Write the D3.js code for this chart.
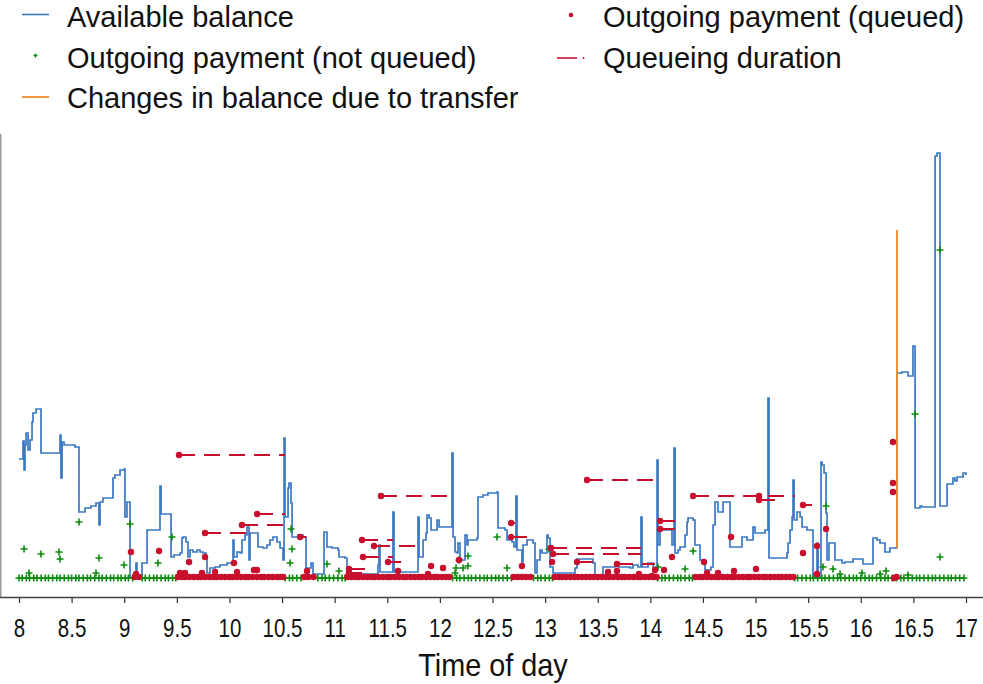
<!DOCTYPE html>
<html>
<head>
<meta charset="utf-8">
<script src="https://cdnjs.cloudflare.com/ajax/libs/d3/7.8.5/d3.min.js"></script>
<style>
    body { margin: 0; background: #fff; }
    svg { display: block; font-family: 'Liberation Sans', Arial, sans-serif; }
</style>
</head>
<body>
<svg id="chart" width="983" height="684"></svg>
<script>
'use strict';

// Available balance, [hour of day, balance], held until the next entry
var balance = [
    [8.000, 119], [8.038, 137], [8.048, 108], [8.057, 133], [8.067, 145], [8.086, 128], [8.105, 138],
    [8.124, 156], [8.133, 165], [8.162, 169], [8.209, 125], [8.390, 143], [8.399, 100], [8.409, 136],
    [8.428, 133], [8.532, 131], [8.570, 66], [8.627, 70], [8.684, 72], [8.732, 75], [8.760, 53],
    [8.770, 76], [8.798, 80], [8.893, 100], [8.912, 103], [8.960, 108], [8.998, 109], [9.007, 61],
    [9.026, 76], [9.055, 0], [9.112, 15], [9.121, 3], [9.169, 15], [9.217, 48], [9.340, 92],
    [9.350, 64], [9.445, 21], [9.473, 23], [9.530, 25], [9.549, 40], [9.559, 41], [9.587, 36],
    [9.606, 21], [9.625, 28], [9.654, 26], [9.692, 28], [9.720, 26], [9.749, 25], [9.777, 21],
    [9.787, 5], [9.815, 10], [9.863, 11], [9.910, 13], [9.977, 15], [10.024, 16], [10.034, 38],
    [10.043, 21], [10.072, 26], [10.100, 25], [10.119, 38], [10.148, 43], [10.167, 51], [10.186, 18],
    [10.195, 45], [10.271, 31], [10.319, 30], [10.357, 33], [10.385, 38], [10.414, 41], [10.452, 36],
    [10.481, 30], [10.509, 18], [10.519, 140], [10.528, 61], [10.557, 90], [10.566, 95], [10.585, 75],
    [10.595, 41], [10.652, 43], [10.699, 41], [10.728, 10], [10.775, 15], [10.794, 4], [10.899, 46],
    [10.927, 31], [10.975, 30], [11.032, 28], [11.041, 21], [11.098, 20], [11.117, 3], [11.241, 4],
    [11.412, 13], [11.421, 33], [11.431, 6], [11.554, 66], [11.564, 6], [11.792, 61], [11.802, 21],
    [11.840, 38], [11.868, 45], [11.878, 63], [11.897, 60], [11.916, 48], [11.973, 58], [11.992, 51],
    [12.115, 125], [12.125, 41], [12.144, 26], [12.163, 25], [12.172, 35], [12.191, 18], [12.239, 43],
    [12.258, 33], [12.267, 38], [12.353, 40], [12.362, 81], [12.410, 83], [12.457, 85], [12.543, 86],
    [12.552, 50], [12.619, 48], [12.638, 38], [12.686, 36], [12.704, 31], [12.723, 82], [12.733, 28],
    [12.780, 16], [12.790, 33], [12.828, 38], [12.885, 35], [12.904, 5], [12.923, 18], [12.952, 28],
    [12.971, 25], [13.018, 43], [13.028, 40], [13.047, 11], [13.075, 5], [13.284, 10], [13.303, 19],
    [13.455, 15], [13.474, 3], [13.550, 11], [13.664, 13], [13.683, 16], [13.693, 11], [13.807, 10],
    [13.835, 13], [13.883, 11], [13.911, 61], [13.921, 11], [13.978, 15], [14.026, 10], [14.064, 118],
    [14.073, 33], [14.092, 48], [14.187, 48], [14.206, 33], [14.225, 130], [14.235, 25], [14.263, 28],
    [14.282, 31], [14.330, 43], [14.349, 56], [14.358, 60], [14.406, 58], [14.424, 33], [14.472, 18],
    [14.501, 15], [14.520, 8], [14.576, 11], [14.596, 53], [14.615, 76], [14.643, 66], [14.691, 76],
    [14.757, 31], [14.871, 41], [14.919, 38], [14.976, 51], [14.995, 45], [15.090, 48], [15.118, 180],
    [15.128, 20], [15.299, 25], [15.309, 35], [15.328, 48], [15.347, 61], [15.356, 98], [15.366, 58],
    [15.394, 66], [15.423, 61], [15.442, 51], [15.489, 48], [15.546, 1], [15.584, 35], [15.594, 1],
    [15.622, 116], [15.632, 113], [15.651, 105], [15.670, 65], [15.679, 18], [15.698, 35], [15.755, 18],
    [15.822, 15], [15.850, 16], [15.926, 19], [16.021, 14], [16.116, 40], [16.154, 38], [16.183, 35],
    [16.230, 26], [16.277, 30], [16.344, 205], [16.391, 206], [16.449, 202], [16.496, 232], [16.516, 70],
    [16.563, 72], [16.582, 71], [16.706, 422], [16.725, 425], [16.753, 72], [16.820, 94], [16.876, 100],
    [16.895, 97], [16.915, 101], [16.972, 105], [17.000, 103]
];

// [hour, balance before, balance right after the transfer]
var transfers = [[16.344, 30, 348]];

// Outgoing payments settled at once, [hour, amount]
var notQueued = [
    [8.048, 29], [8.095, 5], [8.209, 24], [8.380, 26], [8.390, 19], [8.570, 56], [8.732, 5],
    [8.760, 20], [8.998, 13], [9.055, 54], [9.321, 15], [9.454, 41], [10.576, 15], [10.585, 49],
    [10.595, 29], [10.927, 14], [11.041, 7], [12.144, 5], [12.153, 10], [12.182, 18], [12.220, 10],
    [12.267, 22], [12.267, 12], [12.543, 41], [12.638, 10], [13.037, 29], [14.073, 11], [14.330, 9],
    [14.406, 27], [15.641, 11], [15.670, 72], [15.736, 9], [15.803, 4], [16.012, 5], [16.183, 4],
    [16.240, 7], [16.449, 3], [16.516, 164], [16.753, 328], [16.753, 21]
];
// the many very small ones that sit on the zero line
var notQueuedSmall = [
    8.00, 8.03, 8.07, 8.10, 8.14, 8.17, 8.21, 8.25, 8.28, 8.32, 8.36, 8.39, 8.43, 8.47, 8.50, 8.54,
    8.57, 8.61, 8.65, 8.68, 8.72, 8.76, 8.79, 8.83, 8.87, 8.90, 8.94, 8.97, 9.01, 9.04, 9.08,
    9.17, 9.20, 9.24, 9.28, 9.31, 9.35, 9.39, 9.42, 9.46, 9.49,
    10.53, 10.57, 10.60, 10.64, 10.68,
    10.84, 10.88, 10.91, 10.95, 10.99, 11.03, 11.07, 11.10,
    12.12, 12.16, 12.19, 12.23, 12.27, 12.30, 12.34, 12.38, 12.42, 12.45, 12.49, 12.53, 12.56, 12.60,
    12.64, 12.68,
    12.89, 12.93, 12.96, 13.00, 13.04, 13.07,
    14.07, 14.11, 14.14, 14.18, 14.22, 14.26, 14.29, 14.33, 14.37, 14.40,
    15.37, 15.40, 15.44, 15.48, 15.52, 15.55, 15.59, 15.63, 15.66, 15.70, 15.74, 15.78, 15.81, 15.85,
    15.89, 15.93, 15.96, 16.00, 16.04, 16.08, 16.11, 16.15, 16.19, 16.23, 16.26, 16.30, 16.34, 16.38,
    16.41, 16.45, 16.49, 16.53, 16.56, 16.60, 16.64, 16.68, 16.71, 16.75, 16.79, 16.83, 16.86, 16.90,
    16.94, 16.98
];

// Outgoing payments that were queued and released without a visible wait, [hour, amount]
var queued = [
    [9.064, 26], [9.112, 4], [9.331, 27], [9.530, 5], [9.578, 5], [9.616, 16], [9.739, 5],
    [9.768, 21], [9.863, 6], [10.043, 15], [10.072, 6], [10.233, 8], [10.262, 8], [10.737, 7],
    [11.602, 7], [11.887, 4], [11.916, 12], [12.030, 10], [12.182, 18], [12.780, 12], [13.066, 16],
    [13.598, 6], [13.683, 7], [13.892, 4], [14.016, 2], [14.045, 8], [14.130, 8], [14.206, 21],
    [14.510, 16], [14.539, 5], [14.643, 5], [14.767, 41], [14.795, 7], [15.004, 9], [15.033, 82],
    [15.451, 25], [15.584, 32], [15.584, 4], [15.670, 49], [16.306, 136], [16.306, 95], [16.306, 86],
    [16.316, 0]
];
var queuedSmall = [
    9.10, 9.14,
    9.51, 9.55, 9.58, 9.62, 9.66, 9.70, 9.73, 9.77, 9.81, 9.85, 9.88, 9.92, 9.96, 10.00, 10.03, 10.07,
    10.11, 10.15, 10.18, 10.22, 10.26, 10.30, 10.33, 10.37, 10.41, 10.45, 10.48, 10.51,
    10.71, 10.75, 10.80,
    11.12, 11.16, 11.20, 11.23, 11.27, 11.31, 11.35, 11.38, 11.42, 11.46, 11.50, 11.53, 11.57, 11.61,
    11.65, 11.68, 11.72, 11.76, 11.80, 11.83, 11.87, 11.91, 11.95, 11.98, 12.02, 12.06, 12.09,
    12.70, 12.74, 12.78, 12.82, 12.86,
    13.09, 13.13, 13.16, 13.20, 13.24, 13.28, 13.31, 13.35, 13.39, 13.43, 13.46, 13.50, 13.54, 13.58,
    13.61, 13.65, 13.69, 13.73, 13.76, 13.80, 13.84, 13.88, 13.91, 13.95, 13.99, 14.03, 14.06,
    14.43, 14.47, 14.50, 14.54, 14.58, 14.62, 14.65, 14.69, 14.73, 14.77, 14.80, 14.84, 14.88, 14.92,
    14.95, 14.99, 15.03, 15.07, 15.10, 15.14, 15.18, 15.22, 15.25, 15.29, 15.33, 15.36,
    16.34
];

// Queued payments with their waiting time, [queued at, released at, amount]
var queueDurations = [
    [9.521, 10.528, 123], [10.262, 10.528, 64], [10.119, 10.509, 53], [9.768, 10.186, 45],
    [10.671, 10.728, 41], [11.440, 12.077, 82], [11.260, 11.554, 38], [11.374, 11.783, 32],
    [11.269, 11.554, 21], [11.507, 11.631, 16], [11.136, 11.288, 9], [11.136, 11.260, 5],
    [13.398, 14.035, 98], [12.676, 12.714, 55], [12.676, 12.828, 41], [13.056, 13.911, 30],
    [13.075, 13.911, 24], [13.303, 13.455, 16], [13.683, 14.045, 14], [14.092, 14.235, 57],
    [14.092, 14.235, 49], [14.406, 15.375, 82], [15.033, 15.204, 78], [15.451, 15.537, 73]
];

var xTicks = [8, 8.5, 9, 9.5, 10, 10.5, 11, 11.5, 12, 12.5, 13, 13.5, 14, 14.5, 15, 15.5, 16, 16.5, 17];
var xTickLabels = ['8', '8.5', '9', '9.5', '10', '10.5', '11', '11.5', '12', '12.5', '13', '13.5',
    '14', '14.5', '15', '15.5', '16', '16.5', '17'];
var xTitle = 'Time of day';

var legendLabels = ['Available balance', 'Outgoing payment (not queued)', 'Changes in balance due to transfer',
    'Outgoing payment (queued)', 'Queueing duration'];

var colors = {
    balance: '#3b78c3',
    notQueued: '#0a8a0a',
    transfer: '#f08c28',
    queued: '#c8102e'
};

var PaymentChart = {
    svg: null,
    x: null,
    y: null,
    plusPath: 'M-3.5,0H3.5M0,-3.5V3.5',

    init: function(svgId) {
        this.svg = d3.select('#' + svgId);

        this.x = d3.scaleLinear().domain([8, 17]).range([19, 966]);
        // the chart has no value labels, the scale only has to keep the shape
        this.y = d3.scaleLinear().domain([0, 440]).range([578, 138]);

        this.drawAxes();
        this.drawSeries();
        this.drawLegend();
    },

    drawAxes: function() {
        let axis = d3.axisBottom(this.x)
            .tickValues(xTicks)
            .tickSize(6)
            .tickFormat(function(d, i) { return xTickLabels[i]; });

        let g = this.svg.append('g')
            .attr('class', 'x-axis')
            .attr('transform', 'translate(0,597)')
            .call(axis);

        g.select('.domain').remove();
        g.selectAll('.tick line').attr('stroke', '#333').attr('stroke-width', 1.2);
        // the labels are set in a narrow face, squeeze Liberation Sans to match
        g.selectAll('.tick text')
            .attr('y', 40)
            .attr('dy', null)
            .attr('fill', '#111')
            .attr('transform', 'scale(0.82,1)')
            .style('font-family', "'Liberation Sans', Arial, sans-serif")
            .style('font-size', '25px');

        // frame: grey left edge and a bottom line over the full width
        this.svg.append('line')
            .attr('x1', 0.75).attr('x2', 0.75)
            .attr('y1', 134).attr('y2', 597)
            .attr('stroke', '#9a9a9a').attr('stroke-width', 1.5);
        this.svg.append('line')
            .attr('x1', 0).attr('x2', 983)
            .attr('y1', 597.5).attr('y2', 597.5)
            .attr('stroke', '#444').attr('stroke-width', 1.3);

        this.svg.append('text')
            .attr('transform', 'translate(493,676) scale(0.9,1)')
            .attr('text-anchor', 'middle')
            .style('font-size', '32px')
            .attr('fill', '#111')
            .text(xTitle);
    },

    drawSeries: function() {
        let x = this.x, y = this.y;
        let plot = this.svg.append('g').attr('class', 'plot');

        let line = d3.line()
            .x(function(d) { return x(d[0]); })
            .y(function(d) { return y(d[1]); })
            .curve(d3.curveStepAfter);

        plot.append('path')
            .datum(balance)
            .attr('fill', 'none')
            .attr('stroke', colors.balance)
            .attr('stroke-width', 1.7)
            .attr('d', line);

        plot.append('g').selectAll('line')
            .data(transfers)
            .enter().append('line')
                .attr('x1', function(d) { return x(d[0]); })
                .attr('x2', function(d) { return x(d[0]); })
                .attr('y1', function(d) { return y(d[1]); })
                .attr('y2', function(d) { return y(d[2]); })
                .attr('stroke', colors.transfer)
                .attr('stroke-width', 1.8);

        let greens = notQueuedSmall.map(function(t) { return [t, 0]; }).concat(notQueued);
        plot.append('g').selectAll('path')
            .data(greens)
            .enter().append('path')
                .attr('d', this.plusPath)
                .attr('transform', function(d) { return 'translate(' + x(d[0]) + ',' + y(d[1]) + ')'; })
                .attr('stroke', colors.notQueued)
                .attr('stroke-width', 1.6)
                .attr('fill', 'none');

        plot.append('g').selectAll('line')
            .data(queueDurations)
            .enter().append('line')
                .attr('x1', function(d) { return x(d[0]); })
                .attr('x2', function(d) { return x(d[1]); })
                .attr('y1', function(d) { return y(d[2]); })
                .attr('y2', function(d) { return y(d[2]); })
                .attr('stroke', colors.queued)
                .attr('stroke-width', 2)
                .attr('stroke-dasharray', '16,9');

        let reds = queuedSmall.map(function(t) { return [t, 1]; })
            .concat(queued)
            .concat(queueDurations.map(function(d) { return [d[0], d[2]]; }));
        plot.append('g').selectAll('circle')
            .data(reds)
            .enter().append('circle')
                .attr('cx', function(d) { return x(d[0]); })
                .attr('cy', function(d) { return y(d[1]); })
                .attr('r', 3.2)
                .attr('fill', colors.queued);
    },

    drawLegend: function() {
        let g = this.svg.append('g').attr('class', 'legend');
        let rows = [
            {label: legendLabels[0], x: 67, y: 27},
            {label: legendLabels[1], x: 67, y: 68},
            {label: legendLabels[2], x: 67, y: 108},
            {label: legendLabels[3], x: 603, y: 27},
            {label: legendLabels[4], x: 603, y: 68}
        ];

        g.selectAll('text')
            .data(rows)
            .enter().append('text')
                .attr('x', function(d) { return d.x; })
                .attr('y', function(d) { return d.y; })
                .style('font-size', '29px')
                .attr('fill', '#111')
                .text(function(d) { return d.label; });

        g.append('line').attr('x1', 22).attr('x2', 49).attr('y1', 14.5).attr('y2', 14.5)
            .attr('stroke', colors.balance).attr('stroke-width', 1.6);
        g.append('path').attr('d', 'M-2,0H2M0,-2V2').attr('transform', 'translate(35.5,55.5)')
            .attr('stroke', colors.notQueued).attr('stroke-width', 1.3);
        g.append('line').attr('x1', 22).attr('x2', 49).attr('y1', 97).attr('y2', 97)
            .attr('stroke', colors.transfer).attr('stroke-width', 1.8);
        g.append('circle').attr('cx', 571).attr('cy', 15).attr('r', 2.3)
            .attr('fill', colors.queued);
        g.append('line').attr('x1', 557).attr('x2', 577).attr('y1', 58).attr('y2', 58)
            .attr('stroke', colors.queued).attr('stroke-width', 1.6);
        g.append('circle').attr('cx', 583.5).attr('cy', 58).attr('r', 1)
            .attr('fill', colors.queued);
    }
};

PaymentChart.init('chart');
</script>
</body>
</html>
